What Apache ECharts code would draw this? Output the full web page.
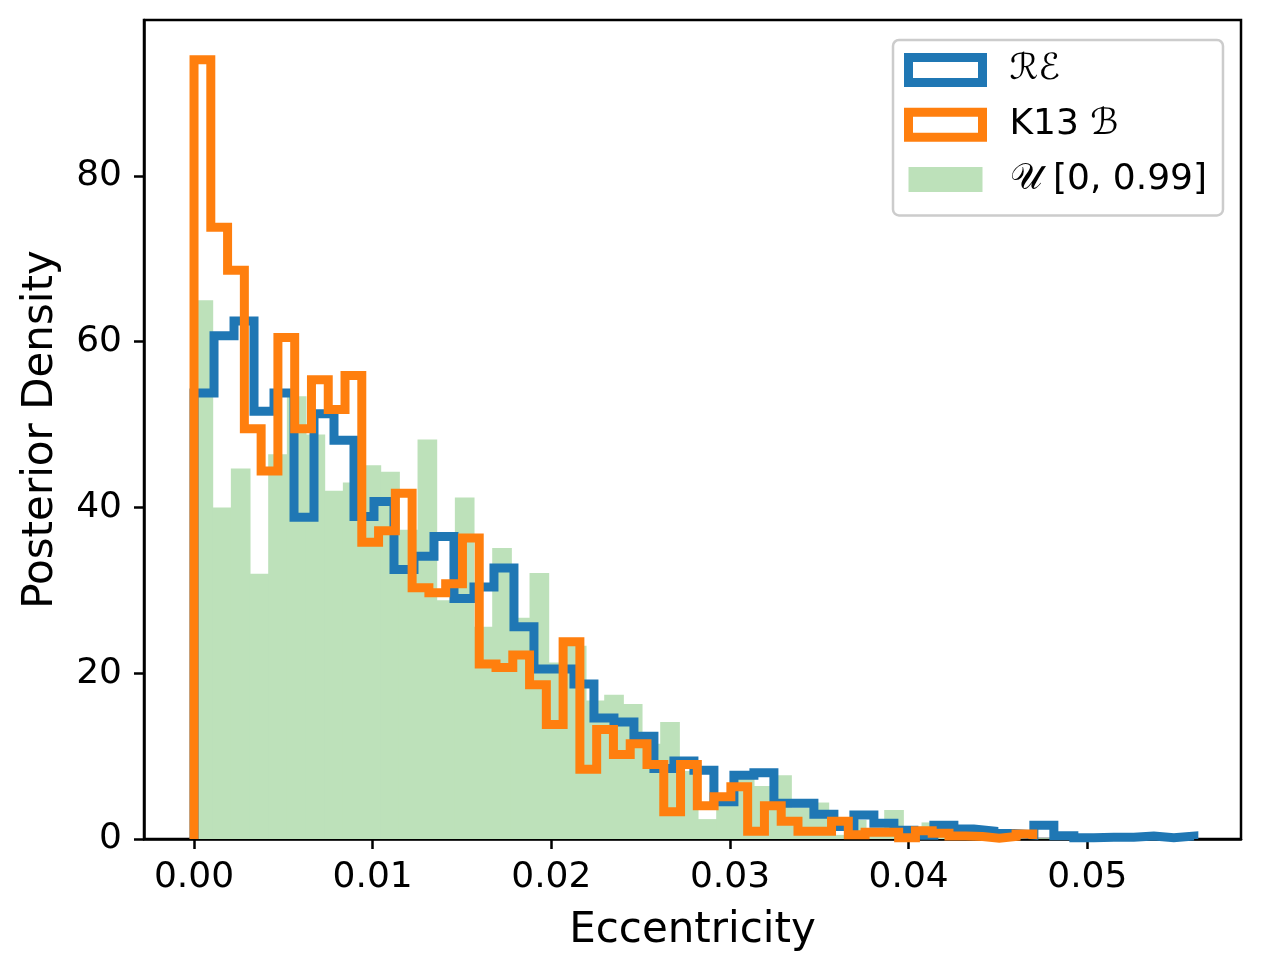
<!DOCTYPE html>
<html>
<head>
<meta charset="utf-8">
<title>Eccentricity posterior</title>
<script src="https://cdn.jsdelivr.net/npm/echarts@6/dist/echarts.min.js"></script>
<style>
  html, body { margin: 0; padding: 0; background: #fff; }
  #main { width: 1263px; height: 973px; }
</style>
</head>
<body>
<div id="main"></div>
<script>
// histogram bins: 50 bins each, starting at 0
var blueBinWidth = 0.0011192;
var orangeBinWidth = 0.000939;
var greenBinWidth = 0.0010448;

var blueValues = [
  53.8, 60.7, 62.5, 51.6, 53.8, 38.8, 51.3, 48.1, 38.9, 40.7,
  32.5, 34.1, 36.5, 29.0, 30.4, 32.7, 25.6, 20.5, 20.5, 18.7,
  14.6, 14.1, 12.4, 8.5, 9.4, 8.3, 4.5, 7.7, 8.0, 4.3,
  4.3, 3.0, 1.5, 2.9, 1.9, 1.05, 0.45, 1.67, 1.2, 0.96,
  0.66, 0.5, 1.65, 0.4, 0.15, 0.2, 0.2, 0.35, 0.15, 0.35
];
var orangeValues = [
  94.0, 73.8, 68.6, 49.5, 44.4, 60.5, 49.5, 55.4, 51.8, 55.9,
  35.8, 37.2, 41.7, 30.3, 29.7, 30.8, 36.3, 21.1, 20.7, 22.2,
  18.6, 13.8, 23.8, 8.4, 13.2, 10.2, 11.5, 9.0, 3.3, 9.0,
  4.0, 5.1, 6.3, 0.94, 4.0, 2.15, 0.94, 0.94, 2.15, 0.5,
  0.8, 0.8, 0.15, 1.0, 0.7, 0.35, 0.3, 0.1, 0.3, 0.6
];
var greenValues = [
  65.0, 40.0, 44.7, 32.0, 46.4, 53.4, 48.8, 42.0, 43.0, 45.1,
  44.3, 37.3, 48.2, 28.8, 41.2, 25.6, 35.1, 26.7, 32.1, 21.3,
  23.3, 16.7, 17.4, 16.3, 11.5, 14.1, 8.2, 2.4, 5.0, 7.5,
  6.4, 7.7, 3.8, 4.4, 0.5, 2.3, 1.2, 3.5, 1.5, 2.0,
  1.0, 0.5, 0.4, 0.2, 0.3, 0.1, 0.1, 0.05, 0.0, 0.1
];
var xTicks = [0, 0.01, 0.02, 0.03, 0.04, 0.05];
var yTicks = [0, 20, 40, 60, 80];

var names = ['\u211B\u2130', 'K13 \u212C', '\uD835\uDCB0 [0, 0.99]'];

// outline of a step histogram
function stepOutline(values, width) {
  var pts = [[0, 0]];
  for (var i = 0; i < values.length; i++) {
    pts.push([i * width, values[i]]);
    pts.push([(i + 1) * width, values[i]]);
  }
  pts.push([values.length * width, 0]);
  return pts;
}

var greenBars = greenValues.map(function (v, i) {
  return [i * greenBinWidth, (i + 1) * greenBinWidth, v];
});

var font = 'DejaVu Sans';
var green = '#bde1ba';
var chart = echarts.init(document.getElementById('main'));

chart.setOption({
  animation: false,
  grid: {
    left: 144, top: 20, width: 1097, height: 819,
    show: true, borderColor: '#000', borderWidth: 2.5, backgroundColor: 'transparent'
  },
  legend: {
    orient: 'vertical',
    left: 893, top: 40,
    padding: [10, 16, 16, 11],
    itemGap: 14.7,
    itemWidth: 74, itemHeight: 25,
    backgroundColor: '#fff',
    borderColor: '#cccccc', borderWidth: 2.5, borderRadius: 6,
    selectedMode: false,
    textStyle: { fontFamily: font, fontSize: 36, color: '#000', lineHeight: 40, padding: [0, 0, 0, 22] },
    data: [
      { name: names[0], icon: 'rect', itemStyle: { color: '#fff', borderColor: '#1f77b4', borderWidth: 9 } },
      { name: names[1], icon: 'rect', itemStyle: { color: '#fff', borderColor: '#ff7f0e', borderWidth: 9 } },
      { name: names[2], icon: 'rect', itemStyle: { color: green, borderWidth: 0 } }
    ]
  },
  xAxis: {
    type: 'value',
    min: -0.0028, max: 0.0586,
    name: 'Eccentricity', nameLocation: 'middle', nameGap: 71,
    nameTextStyle: { fontFamily: font, fontSize: 42, color: '#000' },
    splitLine: { show: false },
    axisLine: { show: true, onZero: false, lineStyle: { color: '#000', width: 2.5 } },
    axisTick: { show: true, length: 10, lineStyle: { color: '#000', width: 2.5 }, customValues: xTicks },
    axisLabel: {
      fontFamily: font, fontSize: 36, color: '#000', margin: 21,
      customValues: xTicks,
      formatter: function (v) { return v.toFixed(2); }
    }
  },
  yAxis: {
    type: 'value',
    min: 0, max: 98.8,
    name: 'Posterior Density', nameLocation: 'middle', nameGap: 82,
    nameTextStyle: { fontFamily: font, fontSize: 42, color: '#000' },
    splitLine: { show: false },
    axisLine: { show: true, onZero: false, lineStyle: { color: '#000', width: 2.5 } },
    axisTick: { show: true, length: 10, lineStyle: { color: '#000', width: 2.5 }, customValues: yTicks },
    axisLabel: { fontFamily: font, fontSize: 36, color: '#000', margin: 22, customValues: yTicks }
  },
  series: [
    {
      name: names[2],
      type: 'custom',
      data: greenBars,
      encode: { x: [0, 1], y: 2 },
      renderItem: function (params, api) {
        var p0 = api.coord([api.value(0), api.value(2)]);
        var p1 = api.coord([api.value(1), 0]);
        return {
          type: 'rect',
          shape: { x: p0[0] - 0.5, y: p0[1], width: p1[0] - p0[0] + 1, height: p1[1] - p0[1] },
          style: { fill: green }
        };
      },
      z: 1
    },
    {
      name: names[0],
      type: 'line',
      data: stepOutline(blueValues, blueBinWidth),
      showSymbol: false,
      lineStyle: { color: '#1f77b4', width: 9, join: 'miter', cap: 'butt' },
      itemStyle: { color: '#1f77b4' },
      z: 2
    },
    {
      name: names[1],
      type: 'line',
      data: stepOutline(orangeValues, orangeBinWidth),
      showSymbol: false,
      lineStyle: { color: '#ff7f0e', width: 9, join: 'miter', cap: 'butt' },
      itemStyle: { color: '#ff7f0e' },
      z: 3
    }
  ]
});
</script>
</body>
</html>
